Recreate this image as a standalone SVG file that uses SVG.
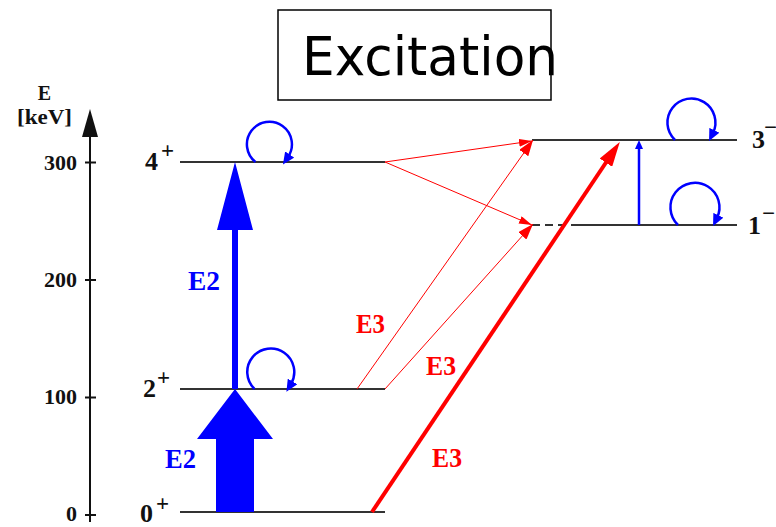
<svg xmlns="http://www.w3.org/2000/svg" width="776" height="527" viewBox="0 0 776 527">
<style>
.lvl{stroke:#333;stroke-width:2;fill:none}
.lab{font-family:"Liberation Serif","Times New Roman",serif;font-weight:bold;fill:#111}
.sup{font-size:23px}
.blue{fill:#0000ff}
.red{fill:#ff0000}
.loop{stroke:#0000ff;stroke-width:2.5;fill:none;marker-end:url(#mLoop)}
.thin{stroke:#ff0000;stroke-width:1;fill:none}
</style>
<defs>
<marker id="mLoop" markerUnits="userSpaceOnUse" markerWidth="12" markerHeight="11" refX="3" refY="5.5" orient="auto"><path d="M0,0 L12,5.5 L0,11 z" fill="#0000ff"/></marker>
<marker id="mRs" markerUnits="userSpaceOnUse" markerWidth="13" markerHeight="8" refX="13" refY="4" orient="auto"><path d="M0,0 L13,4 L0,8 z" fill="#ff0000"/></marker>
<marker id="mRm" markerUnits="userSpaceOnUse" markerWidth="16" markerHeight="11" refX="16" refY="5.5" orient="auto"><path d="M0,0 L16,5.5 L0,11 z" fill="#ff0000"/></marker>
<marker id="mRb" markerUnits="userSpaceOnUse" markerWidth="25" markerHeight="15" refX="2" refY="7.5" orient="auto"><path d="M0,0 L25,7.5 L0,15 z" fill="#ff0000"/></marker>
<marker id="mB" markerUnits="userSpaceOnUse" markerWidth="9" markerHeight="8" refX="1" refY="4" orient="auto"><path d="M0,0 L9,4 L0,8 z" fill="#0000ff"/></marker>
</defs>

<g id="title">
<rect x="278" y="10" width="273" height="90" fill="none" stroke="#000" stroke-width="1.5"/>
<text x="302" y="75" font-family="DejaVu Sans, sans-serif" font-size="54" textLength="256" lengthAdjust="spacingAndGlyphs" fill="#000">Excitation</text>
</g>

<g id="axis">
<line x1="90" y1="522" x2="90" y2="130" stroke="#111" stroke-width="2"/>
<polygon points="90,109 98,137 82,137" fill="#111"/>
<g stroke="#111" stroke-width="2">
<line x1="85" y1="162.5" x2="96" y2="162.5"/>
<line x1="85" y1="280" x2="96" y2="280"/>
<line x1="85" y1="397.5" x2="96" y2="397.5"/>
<line x1="85" y1="515" x2="96" y2="515"/>
</g>
<g class="lab" font-size="22" text-anchor="end">
<text x="77" y="170">300</text>
<text x="77" y="287">200</text>
<text x="77" y="404">100</text>
<text x="77" y="521">0</text>
</g>
<text class="lab" x="44.5" y="100" font-size="20" text-anchor="middle">E</text>
<text class="lab" x="17" y="124" font-size="21" textLength="55" lengthAdjust="spacingAndGlyphs">[keV]</text>
</g>

<g id="level-4plus">
<line class="lvl" x1="180" y1="162" x2="385" y2="162"/>
<text class="lab" x="145" y="170" font-size="26">4<tspan class="sup" x="161" y="158">+</tspan></text>
<path class="loop" d="M255.5,162 A22.5,22.5 0 1 1 288,157"/>
</g>

<g id="level-2plus">
<line class="lvl" x1="180" y1="389" x2="385" y2="389"/>
<text class="lab" x="143" y="397" font-size="26">2<tspan class="sup" x="157" y="385">+</tspan></text>
<path class="loop" d="M254.5,389 A23.5,23.5 0 1 1 291,384"/>
</g>

<g id="level-0plus">
<line class="lvl" x1="180" y1="512" x2="385" y2="512"/>
<text class="lab" x="140" y="522" font-size="26">0<tspan class="sup" x="156" y="511">+</tspan></text>
</g>

<g id="level-3minus">
<line class="lvl" x1="532" y1="140" x2="737" y2="140"/>
<text class="lab" x="752" y="148" font-size="26">3<tspan class="sup" x="764" y="135">−</tspan></text>
<path class="loop" d="M675,140 A24,24 0 1 1 713,133"/>
</g>

<g id="level-1minus">
<line class="lvl" x1="532" y1="225" x2="577" y2="225" stroke-dasharray="8,5"/>
<line class="lvl" x1="577" y1="225" x2="737" y2="225"/>
<text class="lab" x="748" y="234" font-size="26">1<tspan class="sup" x="762" y="221">−</tspan></text>
<path class="loop" d="M678,225 A24.5,24.5 0 1 1 717,218"/>
</g>

<g id="connectors">
<polygon class="blue" points="216,512 254,512 254,439 273,439 235,389 197,439 216,439"/>
<polygon class="blue" points="232,389 238,389 238,230 253,230 235,162 217,230 232,230"/>
<line class="thin" x1="385" y1="162" x2="532" y2="141" marker-end="url(#mRs)"/>
<line class="thin" x1="385" y1="162" x2="532" y2="225" marker-end="url(#mRs)"/>
<line class="thin" x1="357" y1="389" x2="533" y2="140" marker-end="url(#mRm)"/>
<line class="thin" x1="385" y1="389" x2="533" y2="224" marker-end="url(#mRm)"/>
<line x1="372" y1="512" x2="607" y2="161" stroke="#ff0000" stroke-width="4" marker-end="url(#mRb)"/>
<line x1="639" y1="225" x2="639" y2="148" stroke="#0000ff" stroke-width="2.5" marker-end="url(#mB)"/>
</g>

<g id="labels" class="lab">
<text x="188" y="290" font-size="28" style="fill:#0000ff" textLength="32" lengthAdjust="spacingAndGlyphs">E2</text>
<text x="165" y="468" font-size="28" style="fill:#0000ff" textLength="31" lengthAdjust="spacingAndGlyphs">E2</text>
<text x="356" y="333" font-size="27" style="fill:#ff0000" textLength="29" lengthAdjust="spacingAndGlyphs">E3</text>
<text x="426" y="375" font-size="27" style="fill:#ff0000" textLength="30" lengthAdjust="spacingAndGlyphs">E3</text>
<text x="432" y="467" font-size="27" style="fill:#ff0000" textLength="30" lengthAdjust="spacingAndGlyphs">E3</text>
</g>
</svg>
